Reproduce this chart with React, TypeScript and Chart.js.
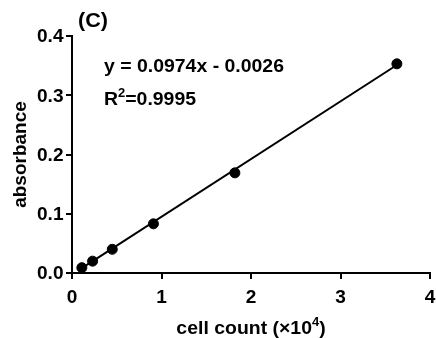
import React, { useEffect, useRef } from "react";
import { Chart, registerables } from "chart.js";

Chart.register(...registerables);

const cellCount = [0.11, 0.23, 0.45, 0.91, 1.82, 3.63];
const absorbance = [0.009, 0.02, 0.04, 0.083, 0.169, 0.353];
const fitX = [0.11, 3.63];
const fitY = [0.0081, 0.351];
const xTickLabels = ["0", "1", "2", "3", "4"];
const yTickLabels = ["0.0", "0.1", "0.2", "0.3", "0.4"];
const panelLabel = "(C)";
const equationText = "y = 0.0974x - 0.0026";
const r2Prefix = "R";
const r2Sup = "2";
const r2Value = "=0.9995";
const xTitleMain = "cell count (×10";
const xTitleSup = "4";
const xTitleEnd = ")";
const yTitle = "absorbance";

const FONT_FAMILY = "'Liberation Sans', Arial, sans-serif";

const textPlugin = {
  id: "customText",
  afterDraw(chart: any) {
    const ctx = chart.ctx as CanvasRenderingContext2D;
    const xs = chart.scales.x;
    const ys = chart.scales.y;
    const area = chart.chartArea;
    const draw = (text: string, x: number, y: number, font: string, sx: number, align: CanvasTextAlign) => {
      ctx.save();
      ctx.font = font;
      ctx.textAlign = align;
      ctx.textBaseline = "alphabetic";
      ctx.translate(x, y);
      ctx.scale(sx, 1);
      ctx.fillText(text, 0, 0);
      ctx.restore();
    };
    const width = (text: string, font: string) => {
      ctx.save();
      ctx.font = font;
      const w = ctx.measureText(text).width;
      ctx.restore();
      return w;
    };
    ctx.save();
    ctx.fillStyle = "#000";
    const tickFont = `bold 18px ${FONT_FAMILY}`;
    const tickSx = 1.06;
    ys.ticks.forEach((t: any, i: number) => {
      draw(yTickLabels[i], area.left - 8.5, ys.getPixelForValue(t.value) + 6.3, tickFont, tickSx, "right");
    });
    xs.ticks.forEach((t: any, i: number) => {
      draw(xTickLabels[i], xs.getPixelForValue(t.value), area.bottom + 30, tickFont, tickSx, "center");
    });

    // panel label
    draw(panelLabel, area.left + 6, 27, `bold 20px ${FONT_FAMILY}`, 1.08, "left");

    // equation
    const eqFont = `bold 18px ${FONT_FAMILY}`;
    const supFont = `bold 12px ${FONT_FAMILY}`;
    const eqSx = 1.08;
    const eqX = 104;
    draw(equationText, eqX, 72, eqFont, eqSx, "left");
    let cx = eqX;
    draw(r2Prefix, cx, 105, eqFont, eqSx, "left");
    cx += width(r2Prefix, eqFont) * eqSx;
    draw(r2Sup, cx, 97, supFont, eqSx, "left");
    cx += width(r2Sup, supFont) * eqSx;
    draw(r2Value, cx, 105, eqFont, eqSx, "left");

    // x title
    const tFont = `bold 18px ${FONT_FAMILY}`;
    const tSup = `bold 12px ${FONT_FAMILY}`;
    const tSx = 1.08;
    const w1 = width(xTitleMain, tFont);
    const w2 = width(xTitleSup, tSup);
    const w3 = width(xTitleEnd, tFont);
    const total = (w1 + w2 + w3) * tSx;
    let tx = (area.left + area.right) / 2 - total / 2;
    const tBase = 334;
    draw(xTitleMain, tx, tBase, tFont, tSx, "left");
    tx += w1 * tSx;
    draw(xTitleSup, tx, tBase - 8, tSup, tSx, "left");
    tx += w2 * tSx;
    draw(xTitleEnd, tx, tBase, tFont, tSx, "left");

    // y title
    ctx.save();
    ctx.font = `bold 19px ${FONT_FAMILY}`;
    ctx.textAlign = "center";
    ctx.textBaseline = "alphabetic";
    ctx.translate(26, (area.top + area.bottom) / 2);
    ctx.rotate(-Math.PI / 2);
    ctx.fillText(yTitle, 0, 0);
    ctx.restore();

    ctx.restore();
  },
};

export default function App() {
  const ref = useRef<HTMLCanvasElement | null>(null);
  useEffect(() => {
    if (!ref.current) return;
    const chart = new Chart(ref.current, {
      type: "scatter",
      data: {
        datasets: [
          {
            type: "scatter",
            data: cellCount.map((x, i) => ({ x, y: absorbance[i] })),
            backgroundColor: "#000",
            borderColor: "#000",
            pointRadius: 5,
            pointHoverRadius: 5,
            order: 0,
          },
          {
            type: "line",
            data: fitX.map((x, i) => ({ x, y: fitY[i] })),
            borderColor: "#000",
            borderWidth: 2,
            pointRadius: 0,
            fill: false,
            order: 1,
          } as any,
        ],
      },
      options: {
        responsive: false,
        animation: false,
        devicePixelRatio: 1,
        layout: { padding: { top: 36, right: 5, left: 0, bottom: 0 } },
        plugins: {
          legend: { display: false },
          tooltip: { enabled: false },
          title: { display: false },
        },
        scales: {
          x: {
            type: "linear",
            min: 0,
            max: 4,
            ticks: { stepSize: 1, display: false },
            grid: {
              drawOnChartArea: false,
              drawTicks: true,
              tickLength: 6,
              color: "#000",
              lineWidth: 2,
            },
            border: { display: true, color: "#000", width: 2 },
            afterFit: (s: any) => {
              s.height = 65;
            },
          },
          y: {
            type: "linear",
            min: 0,
            max: 0.4,
            ticks: { stepSize: 0.1, display: false },
            grid: {
              drawOnChartArea: false,
              drawTicks: true,
              tickLength: 6,
              color: "#000",
              lineWidth: 2,
            },
            border: { display: true, color: "#000", width: 2 },
            afterFit: (s: any) => {
              s.width = 72;
            },
          },
        },
      },
      plugins: [textPlugin],
    });
    return () => chart.destroy();
  }, []);
  return (
    <div style={{ position: "absolute", left: 0, top: 0, width: 436, height: 338, background: "#fff" }}>
      <canvas ref={ref} width={436} height={338} />
    </div>
  );
}
